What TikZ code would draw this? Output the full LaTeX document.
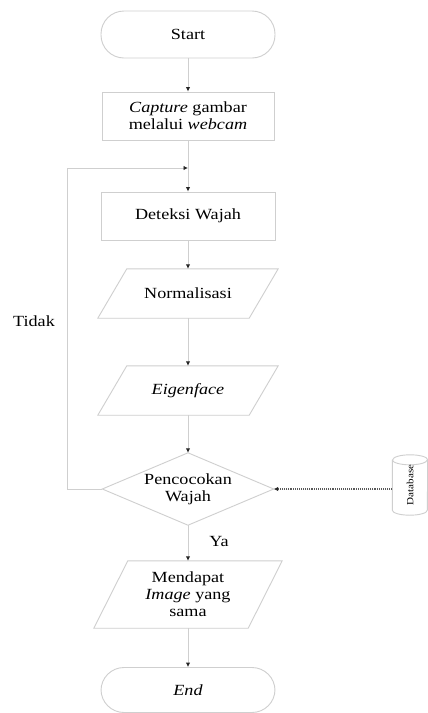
\documentclass[tikz,border=0pt]{standalone}
\usepackage{fontspec}
\setmainfont{Liberation Serif}[FakeStretch=1.17]
\usetikzlibrary{arrows.meta,calc}
\newcommand\mainfs{\fontsize{15.5}{17}\selectfont}
\begin{document}
\begin{tikzpicture}[x=1pt,y=1pt,
  shapeline/.style={draw=gray!38, line width=0.9pt},
  txt/.style={text=black, font=\mainfs, align=center, inner sep=0pt},
  term/.style={txt, shapeline, rounded corners=23pt, minimum width=174, minimum height=47},
  procbox/.style={txt, shapeline, minimum width=172, minimum height=48},
  flow/.style={draw=gray!38, line width=0.9pt, -{Latex[length=4.5pt,width=4.5pt,color=black!85]}},
  dotflow/.style={draw=black!65, line width=1.1pt, densely dotted, -{Latex[length=4.5pt,width=4.5pt,color=black!85]}}
]
\useasboundingbox (0,0) rectangle (428,-713);
\fill[white] (0,0) rectangle (428,-713);

% nodes
\node[term] (start) at (188,-34.5) {Start};
\node[procbox] (capture) at (188,-116) {\textit{Capture} gambar\\melalui \textit{webcam}};
\node[procbox, minimum width=174] (deteksi) at (188,-216) {Deteksi Wajah};
\node[txt, minimum width=151, minimum height=49] (norm) at (188,-293.5) {Normalisasi};
\node[txt, minimum width=151, minimum height=49] (eigen) at (188,-390.5) {\textit{Eigenface}};
\node[txt, minimum width=171, minimum height=72] (match) at (188,-489) {Pencocokan\\Wajah};
\node[txt, minimum width=154, minimum height=67] (dapat) at (188,-594.5) {Mendapat\\\textit{Image} yang\\sama};
\node[term, minimum height=45] (end) at (188,-690) {\textit{End}};
\node[txt, minimum width=35, minimum height=60] (db) at (410,-485) {\rotatebox{90}{\fontsize{9.5}{10}\selectfont Database}};
\node[txt] (ya) at (219,-541) {Ya};
\node[txt] (tidak) at (34,-321) {Tidak};

% shape outlines
\draw[shapeline] ([xshift=14.5]norm.north west) -- ([xshift=14.5]norm.north east)
  -- ([xshift=-14.5]norm.south east) -- ([xshift=-14.5]norm.south west) -- cycle;
\draw[shapeline] ([xshift=14.5]eigen.north west) -- ([xshift=14.5]eigen.north east)
  -- ([xshift=-14.5]eigen.south east) -- ([xshift=-14.5]eigen.south west) -- cycle;
\draw[shapeline] ([xshift=17]dapat.north west) -- ([xshift=17]dapat.north east)
  -- ([xshift=-17]dapat.south east) -- ([xshift=-17]dapat.south west) -- cycle;
\draw[shapeline] (match.north) -- (match.east) -- (match.south) -- (match.west) -- cycle;
\draw[shapeline] ([yshift=-5]db.north west) -- ([yshift=5]db.south west)
  arc[start angle=180, end angle=360, x radius=17.5, y radius=5]
  -- ([yshift=-5]db.north east)
  arc[start angle=0, end angle=180, x radius=17.5, y radius=5];
\draw[shapeline] ([yshift=-5]db.north west)
  arc[start angle=180, end angle=360, x radius=17.5, y radius=5];

% connectors
\coordinate (j) at (188,-168);
\coordinate (lp) at (67,-489);
\draw[flow] (start) -- (capture);
\draw[flow] (capture) -- (deteksi);
\draw[flow] (deteksi) -- (norm);
\draw[flow] (norm) -- (eigen);
\draw[flow] (eigen) -- (match);
\draw[flow] (match) -- (dapat);
\draw[flow] (dapat) -- (end);
\draw[flow] (match.west) -- (lp) |- (j);
\draw[dotflow] (match.east -| db.west) -- (match.east);
\end{tikzpicture}
\end{document}
